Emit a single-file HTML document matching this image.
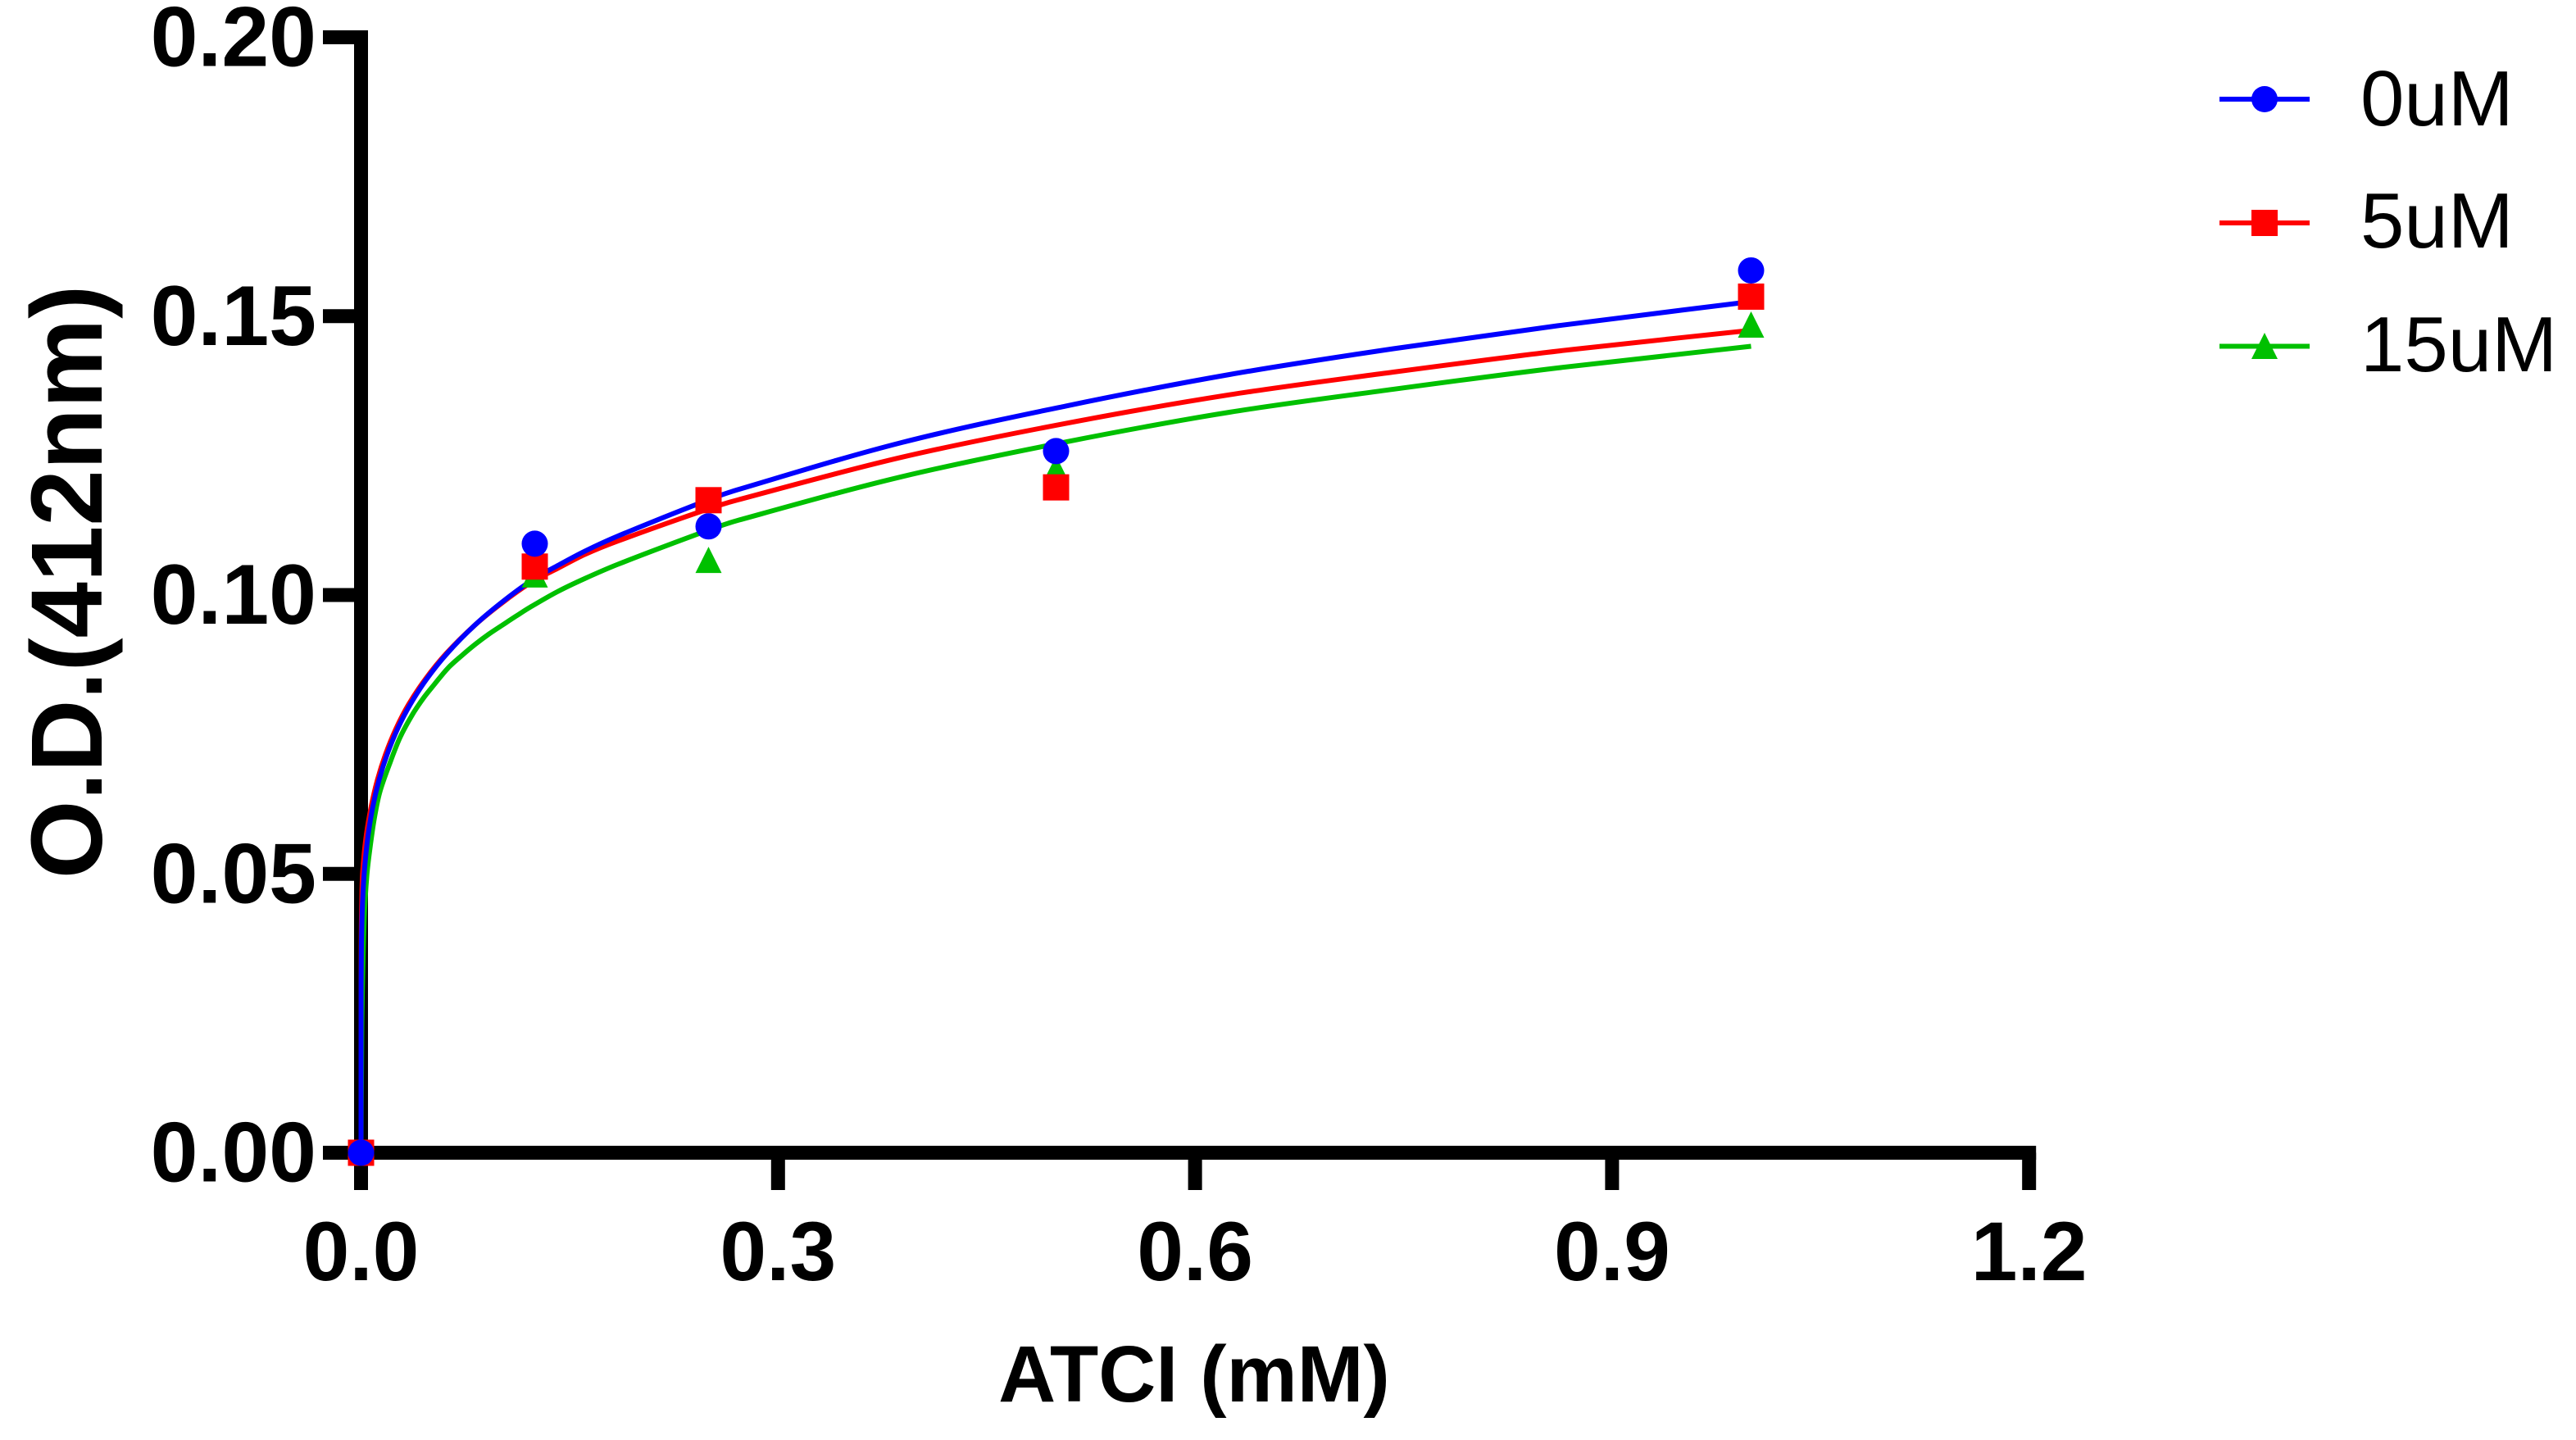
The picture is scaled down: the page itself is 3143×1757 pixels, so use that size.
<!DOCTYPE html>
<html lang="en">
<head>
<meta charset="utf-8">
<title>O.D. vs ATCI</title>
<style>
html,body{margin:0;padding:0;background:#fff;}
svg{display:block;}
text{font-family:"Liberation Sans",Arial,sans-serif;fill:#000;}
.tick{font-size:102px;font-weight:bold;}
.ytick{font-size:104px;font-weight:bold;}
</style>
</head>
<body>
<svg id="chart" xmlns="http://www.w3.org/2000/svg" width="3143" height="1757" viewBox="0 0 3143 1757">
  <rect x="0" y="0" width="3143" height="1757" fill="#fff"/>
  <g id="axes"></g>
  <g id="lines"></g>
  <g id="markers"></g>
  <text x="124" y="710" font-size="123" font-weight="bold" text-anchor="middle" transform="rotate(-90 124 710)">O.D.(412nm)</text>
  <text x="1457" y="1710" font-size="97" font-weight="bold" text-anchor="middle">ATCI (mM)</text>
  <g>
    <g>
      <rect x="2708" y="118" width="110" height="6" fill="#0000ff"/>
      <circle cx="2763" cy="121" r="16" fill="#0000ff"/>
      <text x="2880" y="153" font-size="96">0uM</text>
    </g>
    <g>
      <rect x="2708" y="269" width="110" height="6" fill="#ff0000"/>
      <rect x="2747" y="256" width="32" height="32" fill="#ff0000"/>
      <text x="2880" y="302" font-size="96">5uM</text>
    </g>
    <g>
      <rect x="2708" y="419.5" width="110" height="6" fill="#00c000"/>
      <polygon points="2763,406 2779,438 2747,438" fill="#00c000"/>
      <text x="2880" y="453" font-size="96">15uM</text>
    </g>
  </g>
</svg>
<script>
var xTickValues = [0, 0.3, 0.6, 0.9, 1.2];
var xTickLabels = ["0.0", "0.3", "0.6", "0.9", "1.2"];
var yTickValues = [0, 0.05, 0.10, 0.15, 0.20];
var yTickLabels = ["0.00", "0.05", "0.10", "0.15", "0.20"];

var concentrations = [0, 0.125, 0.25, 0.5, 1];
var points0uM = [0, 0.1092, 0.1123, 0.1258, 0.1582];
var points5uM = [0, 0.1051, 0.1170, 0.1193, 0.1535];
var points15uM = [0, 0.1037, 0.1063, 0.1226, 0.1485];

var fitX0uM = [0, 0.00006, 0.00029, 0.00059, 0.00118, 0.00236, 0.00472, 0.00825, 0.01297, 0.01887, 0.02653, 0.03538, 0.04717, 0.06191, 0.08255, 0.10318, 0.12382, 0.14151, 0.16097, 0.18485, 0.24971, 0.27094, 0.38886, 0.50678, 0.62471, 0.74263, 0.86056, 1];
var fitY0uM = [0, 0.03035, 0.03784, 0.04132, 0.04548, 0.05039, 0.05625, 0.06179, 0.06685, 0.07149, 0.07614, 0.08037, 0.08492, 0.08952, 0.09475, 0.09906, 0.10279, 0.10529, 0.10786, 0.11058, 0.11705, 0.11888, 0.12733, 0.13387, 0.13953, 0.14416, 0.14827, 0.15261];
var fitX5uM = [0, 0.00003, 0.00012, 0.00024, 0.00053, 0.00118, 0.00342, 0.00708, 0.01179, 0.01769, 0.02535, 0.0342, 0.04629, 0.06132, 0.08255, 0.10318, 0.12382, 0.14151, 0.16097, 0.18485, 0.24971, 0.27094, 0.38886, 0.50678, 0.62471, 0.74263, 0.86056, 1];
var fitY5uM = [0, 0.03035, 0.03784, 0.04132, 0.04548, 0.05039, 0.05625, 0.06179, 0.06685, 0.07149, 0.07614, 0.08037, 0.08492, 0.08952, 0.09475, 0.09891, 0.1025, 0.10478, 0.10727, 0.10969, 0.11543, 0.11705, 0.12469, 0.13076, 0.1359, 0.13997, 0.14372, 0.14747];
var fitX15uM = [0, 0.00059, 0.00236, 0.00425, 0.0066, 0.00943, 0.01344, 0.02034, 0.02801, 0.03703, 0.04493, 0.05277, 0.06262, 0.07241, 0.08225, 0.0921, 0.10189, 0.11173, 0.12158, 0.14121, 0.16085, 0.18485, 0.24971, 0.27094, 0.38886, 0.50678, 0.62471, 0.74263, 0.86056, 1];
var fitY15uM = [0, 0.023, 0.0421, 0.04989, 0.05489, 0.05974, 0.06459, 0.06958, 0.07443, 0.07859, 0.08153, 0.08398, 0.08692, 0.08913, 0.09118, 0.09302, 0.09464, 0.09625, 0.0978, 0.10059, 0.10294, 0.10551, 0.11161, 0.11337, 0.12121, 0.12744, 0.13277, 0.13689, 0.14071, 0.1446];

var SVGNS = "http://www.w3.org/2000/svg";
function xScale(v) { return 440.5 + v * 1696; }
function yScale(v) { return 1406.5 - v * 6805; }
function make(tag, parent) {
  var el = document.createElementNS(SVGNS, tag);
  parent.appendChild(el);
  return el;
}
function tangentAt(p, i) {
  var a = p[Math.max(i - 1, 0)], c = p[Math.min(i + 1, p.length - 1)];
  var dx = c[0] - a[0], dy = c[1] - a[1];
  var len = Math.sqrt(dx * dx + dy * dy) || 1;
  return [dx / len, dy / len];
}
function smoothPath(xs, ys) {
  var p = xs.map(function (x, i) { return [xScale(x), yScale(ys[i])]; });
  var d = "M" + p[0][0].toFixed(2) + " " + p[0][1].toFixed(2);
  for (var i = 0; i < p.length - 1; i++) {
    var b = p[i], c = p[i + 1];
    var seg = Math.sqrt(Math.pow(c[0] - b[0], 2) + Math.pow(c[1] - b[1], 2)) / 3;
    var t0 = tangentAt(p, i), t1 = tangentAt(p, i + 1);
    d += "C" + (b[0] + t0[0] * seg).toFixed(2) + " " + (b[1] + t0[1] * seg).toFixed(2) + " " +
         (c[0] - t1[0] * seg).toFixed(2) + " " + (c[1] - t1[1] * seg).toFixed(2) + " " +
         c[0].toFixed(2) + " " + c[1].toFixed(2);
  }
  return d;
}

var axes = document.getElementById("axes");
var lines = document.getElementById("lines");
var markers = document.getElementById("markers");

var yAxisLine = make("rect", axes);


yAxisLine.setAttribute("x", xScale(0) - 8.5);
yAxisLine.setAttribute("y", yScale(0.2) - 8.5);
yAxisLine.setAttribute("width", 17);
yAxisLine.setAttribute("height", yScale(0) - yScale(0.2) + 17);

var xAxisLine = make("rect", axes);


xAxisLine.setAttribute("x", xScale(0) - 8.5);
xAxisLine.setAttribute("y", yScale(0) - 8.5);
xAxisLine.setAttribute("width", xScale(1.2) - xScale(0) + 17);
xAxisLine.setAttribute("height", 17);

xTickValues.forEach(function (v, i) {
  var tick = make("rect", axes);
  
  
  tick.setAttribute("x", xScale(v) - 8.5);
  tick.setAttribute("y", yScale(0));
  tick.setAttribute("width", 17);
  tick.setAttribute("height", 1452 - yScale(0));
  var label = make("text", axes);
  
  
  label.setAttribute("class", "tick");
  label.setAttribute("x", xScale(v));
  label.setAttribute("y", 1562);
  label.setAttribute("text-anchor", "middle");
  label.textContent = xTickLabels[i];
});

yTickValues.forEach(function (v, i) {
  var tick = make("rect", axes);
  
  
  tick.setAttribute("x", 394);
  tick.setAttribute("y", yScale(v) - 8.5);
  tick.setAttribute("width", xScale(0) - 394);
  tick.setAttribute("height", 17);
  var label = make("text", axes);
  
  
  label.setAttribute("class", "ytick");
  label.setAttribute("x", 386);
  label.setAttribute("y", yScale(v) + 35);
  label.setAttribute("text-anchor", "end");
  label.textContent = yTickLabels[i];
});

function drawCurve(name, xs, ys, color) {
  var path = make("path", lines);
  
  
  path.setAttribute("d", smoothPath(xs, ys));
  path.setAttribute("fill", "none");
  path.setAttribute("stroke", color);
  path.setAttribute("stroke-width", 6);
}
drawCurve("fit-curve-15um", fitX15uM, fitY15uM, "#00c000");
drawCurve("fit-curve-5um", fitX5uM, fitY5uM, "#ff0000");
drawCurve("fit-curve-0um", fitX0uM, fitY0uM, "#0000ff");

points15uM.forEach(function (v, i) {
  var cx = xScale(concentrations[i]), cy = yScale(v);
  var tri = make("polygon", markers);
  
  
  tri.setAttribute("points", cx + "," + (cy - 16) + " " + (cx + 16) + "," + (cy + 16) + " " + (cx - 16) + "," + (cy + 16));
  tri.setAttribute("fill", "#00c000");
});
points5uM.forEach(function (v, i) {
  var cx = xScale(concentrations[i]), cy = yScale(v);
  var sq = make("rect", markers);
  
  
  sq.setAttribute("x", cx - 16);
  sq.setAttribute("y", cy - 16);
  sq.setAttribute("width", 32);
  sq.setAttribute("height", 32);
  sq.setAttribute("fill", "#ff0000");
});
points0uM.forEach(function (v, i) {
  var dot = make("circle", markers);
  
  
  dot.setAttribute("cx", xScale(concentrations[i]));
  dot.setAttribute("cy", yScale(v));
  dot.setAttribute("r", 16);
  dot.setAttribute("fill", "#0000ff");
});
</script>
</body>
</html>
